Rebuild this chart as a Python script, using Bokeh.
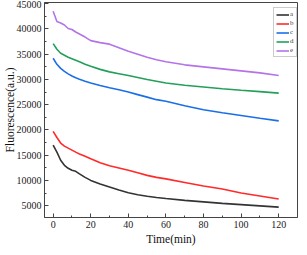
from bokeh.plotting import figure
from bokeh.models import Range1d, Legend, LegendItem, FixedTicker, Title
from bokeh.embed import file_html
from bokeh.resources import INLINE

time = [0, 2, 4, 6, 8, 10, 12, 14, 17, 20, 25, 30, 35, 40, 45, 50, 55, 60, 70, 80, 90, 100, 110, 120]
a = [17000, 15600, 14000, 13000, 12400, 12000, 11800, 11300, 10600, 10000, 9300, 8700, 8100, 7550, 7150, 6850, 6600, 6400, 6050, 5750, 5450, 5200, 4950, 4700]
b = [19700, 18500, 17400, 16800, 16400, 16000, 15600, 15250, 14800, 14300, 13500, 12900, 12450, 12000, 11500, 11000, 10600, 10300, 9600, 8900, 8300, 7500, 6900, 6300]
c = [34200, 33000, 32200, 31600, 31100, 30700, 30350, 30050, 29650, 29300, 28800, 28350, 27950, 27500, 27000, 26500, 26000, 25700, 24800, 24000, 23400, 22850, 22300, 21800]
d = [37100, 36000, 35200, 34800, 34400, 34100, 33800, 33500, 33000, 32600, 32000, 31500, 31150, 30800, 30400, 30000, 29650, 29300, 28850, 28500, 28150, 27850, 27600, 27300]
e = [43500, 41500, 41200, 40800, 40100, 39900, 39400, 39000, 38400, 37700, 37300, 37000, 36300, 35600, 35000, 34400, 33900, 33500, 32900, 32500, 32100, 31700, 31300, 30800]

names = ["a", "b", "c", "d", "e"]
series = [a, b, c, d, e]
colors = ["#333333", "#ff2a2a", "#1a6fe8", "#22a05a", "#b374e8"]

x_ticks = [0, 20, 40, 60, 80, 100, 120]
y_ticks = [5000, 10000, 15000, 20000, 25000, 30000, 35000, 40000, 45000]
x_title = "Time(min)"
y_title = "Fluorescence(a.u.)"

p = figure(width=299, height=247, output_backend="svg", toolbar_location=None,
           x_range=Range1d(-4.6, 130), y_range=Range1d(2650, 45250),
           min_border_top=2, min_border_right=2, min_border_bottom=10, min_border_left=10)
p.xgrid.visible = False
p.ygrid.visible = False
p.outline_line_color = "#444444"
p.outline_line_width = 1
p.background_fill_color = "white"
p.border_fill_color = "white"

items = []
for n, s, col in zip(names, series, colors):
    r = p.line(time, s, line_color=col, line_width=1.6)
    items.append(LegendItem(label=n, renderers=[r]))

for ax in (p.xaxis[0], p.yaxis[0]):
    ax.major_tick_in = 4
    ax.major_tick_out = 0
    ax.minor_tick_in = 2
    ax.minor_tick_out = 0
    ax.axis_line_color = "#444444"
    ax.major_tick_line_color = "#444444"
    ax.minor_tick_line_color = "#444444"
    ax.major_label_text_font = "Liberation Serif"
    ax.major_label_text_font_size = "10px"
    ax.major_label_text_color = "#222222"
    ax.axis_label_text_font = "Liberation Serif"
    ax.axis_label_text_font_size = "11.5px"
    ax.axis_label_text_font_style = "normal"
    ax.axis_label_text_color = "#111111"

p.xaxis[0].ticker = FixedTicker(ticks=x_ticks, minor_ticks=[10, 30, 50, 70, 90, 110])
p.yaxis[0].ticker = FixedTicker(ticks=y_ticks, minor_ticks=[7500, 12500, 17500, 22500, 27500, 32500, 37500, 42500])
p.yaxis[0].axis_label = y_title
p.xaxis[0].major_label_standoff = 3
p.xaxis[0].axis_label = x_title
p.xaxis[0].axis_label_standoff = 2
p.yaxis[0].major_label_standoff = 3
p.yaxis[0].axis_label_standoff = -2

legend = Legend(items=items, location=(229, 160),
                label_text_font="Liberation Serif", label_text_font_size="7px",
                glyph_width=13, glyph_height=7, label_height=7, label_width=4,
                spacing=1, padding=2, margin=0, label_standoff=1,
                border_line_color="#999999", border_line_width=1,
                background_fill_alpha=1.0)
p.add_layout(legend)

open("out.html", "w").write(file_html(p, INLINE))
